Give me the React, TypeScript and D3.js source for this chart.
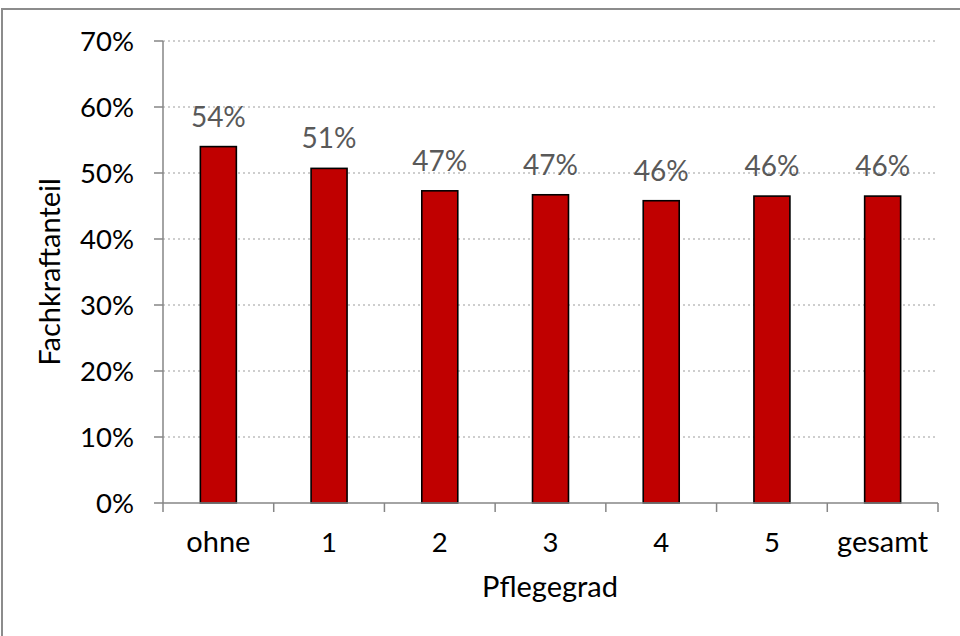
import React from "react";
import * as d3 from "d3";

const categories = ["ohne", "1", "2", "3", "4", "5", "gesamt"];
const values = [0.54, 0.507, 0.473, 0.467, 0.458, 0.465, 0.465];
const labels = ["54%", "51%", "47%", "47%", "46%", "46%", "46%"];
const yTicks = [0, 0.1, 0.2, 0.3, 0.4, 0.5, 0.6, 0.7];
const xTitle = "Pflegegrad";
const yTitle = "Fachkraftanteil";

const W = 960;
const H = 636;
const FONT = "Lato, 'Open Sans', sans-serif";
const NUM = 27.5;
const WORD = 29;

export default function App() {
  const left = 163;
  const right = 938;
  const top = 41;
  const bottom = 503;
  const x = d3.scaleBand<string>().domain(categories).range([left, right]).padding(0);
  const y = d3.scaleLinear().domain([0, 0.7]).range([bottom, top]);
  const step = x.step();
  const barW = step * 0.325;
  const fmt = d3.format(".0%");

  return (
    <svg width={W} height={H} style={{ position: "absolute", left: 0, top: 0 }}>
      <rect x={0} y={0} width={W} height={H} fill="#fff" />
      <rect x={2} y={9} width={W + 10} height={H + 10} fill="none" stroke="#8c8c8c" strokeWidth={2} />
      {yTicks.slice(1).map((t) => (
        <line key={"g" + t} x1={left} x2={right} y1={y(t)} y2={y(t)} stroke="#bfbfbf" strokeWidth={1.5} strokeDasharray="2,3" />
      ))}
      {categories.map((c, i) => {
        const cx = (x(c) as number) + step / 2;
        const isNum = /^\d+$/.test(c);
        return (
          <g key={c}>
            <rect x={cx - barW / 2} y={y(values[i])} width={barW} height={y(0) - y(values[i])} fill="#c00000" stroke="#000" strokeWidth={1.6} />
            <text x={cx} y={y(values[i]) - 20} textAnchor="middle" fontFamily={FONT} fontSize={28} fill="#595959">{labels[i]}</text>
            <text x={cx} y={552} textAnchor="middle" fontFamily={FONT} fontSize={isNum ? NUM : WORD} fill="#000">{c}</text>
          </g>
        );
      })}
      {/* y axis */}
      <line x1={left} x2={left} y1={top} y2={bottom} stroke="#868686" strokeWidth={1.5} />
      {yTicks.map((t) => (
        <g key={"t" + t}>
          <line x1={154} x2={left} y1={y(t)} y2={y(t)} stroke="#868686" strokeWidth={1.5} />
          <text x={134} y={y(t) + 9.5} textAnchor="end" fontFamily={FONT} fontSize={NUM} fill="#000">{fmt(t)}</text>
        </g>
      ))}
      {/* x axis */}
      <line x1={left} x2={right} y1={bottom} y2={bottom} stroke="#868686" strokeWidth={1.5} />
      {categories.concat([""]).map((c, i) => (
        <line key={"xt" + i} x1={left + i * step} x2={left + i * step} y1={bottom} y2={bottom + 9} stroke="#868686" strokeWidth={1.5} />
      ))}
      <text x={550} y={597} textAnchor="middle" fontFamily={FONT} fontSize={WORD} fill="#000">{xTitle}</text>
      <text transform={`translate(60,272) rotate(-90)`} textAnchor="middle" fontFamily={FONT} fontSize={WORD} fill="#000">{yTitle}</text>
    </svg>
  );
}
